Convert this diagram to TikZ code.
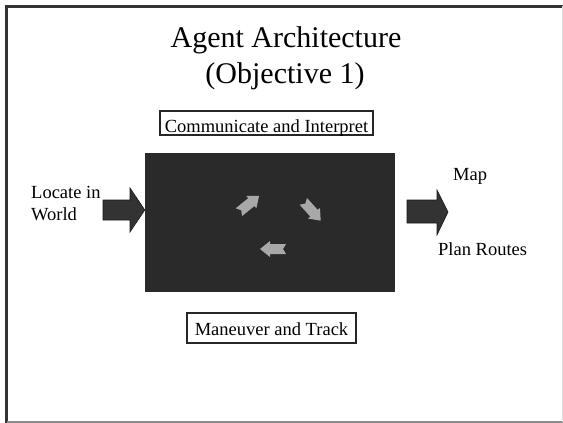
\documentclass[tikz,border=0pt]{standalone}
\usepackage{fontspec}
\setmainfont{Liberation Serif}
\definecolor{core}{HTML}{2A2A2A}
\definecolor{darkarrow}{HTML}{333333}
\definecolor{lightarrow}{HTML}{A8A8A8}
\tikzset{
  labelbox/.style={draw=black!85, line width=1.5pt, inner xsep=0pt, inner ysep=0pt, font=\fontsize{18.5}{22}\selectfont},
  bodytext/.style={font=\fontsize{18.5}{22}\selectfont, inner sep=0pt},
  titletext/.style={font=\fontsize{30}{36}\selectfont, inner sep=0pt},
  bigarrow/.style={fill=darkarrow, draw=black!90, line width=0.6pt},
  smallarrow/.pic={\fill[lightarrow] (-13,-5) -- (3,-5) -- (3,-8) -- (13,0) -- (3,8) -- (3,5) -- (-13,5) -- (-10,0) -- cycle;}
}
\begin{document}
\begin{tikzpicture}[x=1pt,y=-1pt]
\useasboundingbox (0,0) rectangle (563,423);
\fill[white] (0,0) rectangle (563,423);
% frame
\draw[black!80, line width=3pt] (6.5,423) -- (6.5,6) -- (563,6);
\draw[black!45, line width=1.2pt] (6.5,422) -- (563,422);
\draw[black!12, line width=0.6pt] (562.5,6) -- (562.5,422);
% title
\node[titletext, anchor=base] (t1) at (286,47) {Agent Architecture};
\node[titletext, anchor=base] (t2) at (285,83) {(Objective 1)};
% boxes
\node[labelbox, anchor=base, minimum width=213pt, text height=21pt, text depth=3pt] (comm) at (266.5,132) {Communicate and Interpret};
\node[fill=core, minimum width=250pt, minimum height=139pt, inner sep=0pt] (core) at (270,222.5) {};
\node[labelbox, anchor=base, minimum width=169pt, text height=22pt, text depth=8pt] (man) at (271.5,335) {Maneuver and Track};
% side texts
\node[bodytext, anchor=base west] (loc1) at (31,198) {Locate in};
\node[bodytext, anchor=base west] (loc2) at (31,220) {World};
\node[bodytext, anchor=base west] (map) at (453,180) {Map};
\node[bodytext, anchor=base west] (plan) at (438,255) {Plan Routes};
% block arrows
\draw[bigarrow] (103,200) -- (130,200) -- (130,188) -- (core.west |- 0,210) -- (130,232) -- (130,220) -- (103,220) -- cycle;
\draw[bigarrow] (407,200) -- (437,200) -- (437,190) -- (448,212) -- (437,235) -- (437,223) -- (407,223) -- cycle;
% inner cycle arrows
\pic[rotate=39] at (249,204) {smallarrow};
\pic[rotate=-48] at (312,211) {smallarrow};
\pic[rotate=180] at (273,249) {smallarrow};
\end{tikzpicture}
\end{document}
